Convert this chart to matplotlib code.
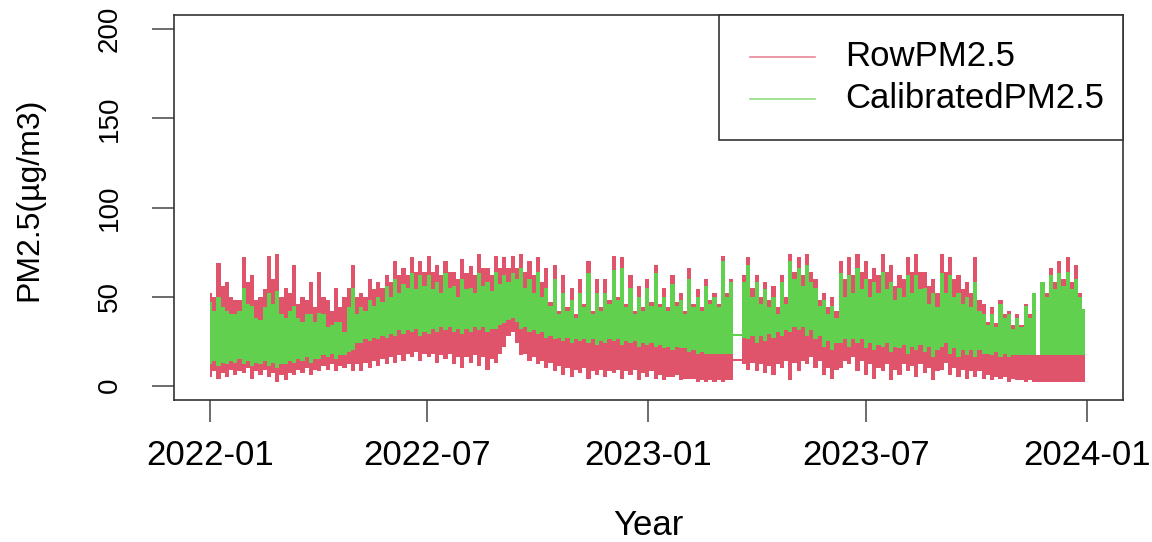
import matplotlib
matplotlib.use("Agg")
import matplotlib.pyplot as plt
from matplotlib.patches import Rectangle
from matplotlib.lines import Line2D
import numpy as np
import pandas as pd

plt.rcParams['font.family'] = ['Liberation Sans', 'DejaVu Sans']

# "_a" = samples at the start of each week, "_b" = samples half a week later.
start_date = "2022-01-01"
raw_hi_a = [52, 69, 58, 48, 72, 62, 50, 73, 74, 55, 68, 50, 58, 64, 48, 55, 50, 68, 52, 60,
            58, 62, 70, 66, 72, 70, 73, 68, 70, 64, 71, 67, 74, 66, 73, 72, 73, 74, 70, 72,
            66, 68, 62, 55, 60, 70, 60, 60, 73, 72, 62, 56, 60, 68, 55, 62, 52, 66, 54, 60,
            52, 73, 60, 15, 72, 62, 58, 56, 62, 74, 72, 74, 60, 52, 50, 70, 72, 74, 70, 66,
            74, 68, 62, 72, 74, 64, 60, 74, 72, 62, 58, 72, 46, 44, 48, 42, 40, 46, 52, 58,
            66, 70, 72, 68, 43]
raw_hi_b = [50, 56, 50, 48, 58, 48, 54, 60, 50, 52, 46, 48, 44, 50, 42, 44, 55,
            50, 50, 54, 55, 58, 62, 62, 64, 64,
            64, 62, 64, 60, 63, 62, 66, 62, 66, 66, 66, 64, 62, 58,
            47, 42, 44, 40, 46, 42, 44, 48, 50, 46, 42, 44, 47,
            46, 44, 47, 42, 46, 44, 48, 46, 52, 15,
            62, 55, 50, 48, 44, 50, 64, 62, 64, 48, 44, 42, 60, 62, 64,
            60, 62, 64, 56, 60, 64, 64, 56, 52, 64, 60, 54, 52, 48,
            36, 35, 40, 34, 34, 40, 17, 52, 58, 60, 58, 52]
cal_hi_a = [47, 50, 42, 40, 55, 45, 37, 52, 53, 38, 45, 36, 40, 41, 33, 36, 30, 55, 44, 48,
            50, 56, 60, 57, 63, 62, 62, 58, 63, 56, 60, 55, 63, 58, 64, 62, 63, 66, 60, 64,
            55, 60, 52, 48, 52, 63, 52, 52, 65, 66, 55, 50, 55, 63, 50, 57, 48, 60, 50, 56,
            50, 70, 58, 29, 68, 58, 54, 50, 58, 70, 66, 68, 55, 48, 45, 63, 62, 66, 60, 58,
            64, 58, 55, 62, 62, 55, 52, 63, 62, 52, 50, 58, 40, 40, 46, 40, 38, 45, 52, 58,
            62, 63, 64, 60, 43]
cal_hi_b = [42, 44, 40, 42, 46, 38, 44, 46, 40, 42, 38, 40, 36, 40, 34, 36, 44,
            40, 42, 45, 47, 50, 52, 55, 54, 56,
            54, 52, 55, 50, 54, 52, 56, 53, 57, 58, 60, 55, 52, 50,
            45, 40, 42, 38, 44, 40, 42, 46, 48, 44, 40, 42, 45,
            44, 42, 45, 40, 44, 42, 46, 44, 50, 29,
            58, 50, 46, 44, 40, 46, 60, 56, 58, 45, 40, 38, 50, 52, 54,
            50, 52, 54, 48, 50, 52, 54, 46, 44, 52, 50, 46, 44, 42,
            34, 33, 38, 32, 33, 38, 17, 50, 54, 56, 54, 50]
cal_lo_a = [12, 11, 12, 13, 12, 11, 12, 11, 10, 12, 13, 14, 13, 15, 16, 15, 17, 20, 24, 25,
            26, 27, 28, 29, 30, 28, 29, 30, 31, 30, 29, 30, 31, 30, 32, 35, 38, 32, 30, 29,
            27, 26, 25, 24, 25, 24, 23, 24, 25, 23, 24, 22, 23, 22, 21, 20, 21, 19, 18, 18,
            18, 18, 18, 28, 26, 24, 25, 27, 28, 30, 31, 28, 26, 22, 20, 24, 22, 24, 21, 20,
            22, 19, 21, 18, 20, 19, 16, 22, 18, 16, 17, 16, 18, 17, 16, 16, 17, 17, 17, 17,
            17, 17, 17, 17, 17]
cal_lo_b = [14, 13, 14, 15, 14, 13, 14, 13, 12, 14, 15, 16, 15, 17, 18, 17, 19,
            24, 26, 27, 28, 29, 31, 31, 32, 30,
            32, 33, 33, 32, 32, 33, 33, 32, 34, 37, 36, 33, 31, 30,
            28, 27, 27, 26, 26, 26, 25, 26, 26, 25, 25, 24, 24,
            23, 22, 22, 21, 20, 19, 18, 18, 18, 28,
            27, 28, 28, 29, 30, 31, 33, 33, 31, 28, 25, 24, 26, 26, 26,
            24, 23, 24, 22, 23, 22, 23, 22, 20, 24, 21, 20, 20, 20,
            18, 19, 18, 17, 17, 17, 17, 17, 17, 17, 17, 17]
raw_lo_a = [5, 4, 5, 6, 7, 4, 6, 5, 2, 3, 6, 7, 6, 8, 9, 8, 10, 8, 8, 10,
            11, 12, 13, 14, 16, 14, 16, 13, 15, 12, 10, 13, 11, 9, 13, 22, 30, 17, 14, 12,
            10, 8, 6, 5, 7, 4, 6, 5, 7, 4, 6, 3, 5, 4, 3, 5, 3, 4, 2, 2,
            2, 2, 3, 14, 9, 8, 7, 6, 10, 3, 8, 12, 10, 6, 4, 10, 12, 8, 6, 4,
            8, 3, 6, 8, 5, 7, 3, 9, 6, 5, 4, 5, 4, 3, 4, 2, 3, 2, 2, 2,
            2, 2, 2, 2, 2]
raw_lo_b = [8, 7, 9, 8, 10, 8, 9, 7, 6, 7, 9, 10, 9, 11, 12, 11, 12,
            12, 13, 14, 15, 16, 17, 18, 19, 18,
            18, 17, 18, 16, 16, 17, 16, 15, 18, 28, 24, 18, 16, 14,
            13, 11, 10, 9, 10, 8, 9, 8, 9, 8, 9, 7, 8,
            6, 5, 6, 4, 4, 3, 3, 3, 3, 14,
            12, 13, 12, 11, 12, 14, 13, 14, 16, 14, 10, 9, 14, 16, 14,
            12, 10, 12, 9, 12, 11, 12, 10, 8, 13, 10, 9, 8, 8,
            6, 5, 5, 4, 3, 3, 2, 2, 2, 2, 2, 2]

series_labels = ["RowPM2.5", "CalibratedPM2.5"]
x_tick_labels = ["2022-01", "2022-07", "2023-01", "2023-07", "2024-01"]
y_ticks = [0, 50, 100, 150, 200]

RED = "#DF536B"
GREEN = "#61D04F"


def interleave(a, b):
    out = []
    for i, v in enumerate(a):
        out.append(v)
        if i < len(b):
            out.append(b[i])
    return np.array(out, dtype=float)


raw_hi = interleave(raw_hi_a, raw_hi_b)
raw_lo = interleave(raw_lo_a, raw_lo_b)
cal_hi = interleave(cal_hi_a, cal_hi_b)
cal_lo = interleave(cal_lo_a, cal_lo_b)
dates = pd.date_range(start_date, periods=len(raw_hi), freq="84h")

fig = plt.figure(figsize=(11.52, 5.42), dpi=100)
ax = fig.add_axes([174/1152, 1-400/542, 949/1152, 385/542])

ax.fill_between(dates, raw_lo, raw_hi, color=RED, lw=0, step='mid')
ax.fill_between(dates, cal_lo, cal_hi, color=GREEN, lw=0, step='mid')

ax.set_xlim(pd.Timestamp("2021-12-02"), pd.Timestamp("2024-01-31"))
ax.set_ylim(-8, 208)

tick_dates = [pd.Timestamp(s + "-01") for s in x_tick_labels]
ax.set_xticks(tick_dates)
ax.set_xticklabels(x_tick_labels)
ax.set_yticks(y_ticks)
ax.set_yticklabels([str(v) for v in y_ticks], rotation=90, va='center')

for s in ax.spines.values():
    s.set_color('#333333')
    s.set_linewidth(1.2)

ax.tick_params(axis='both', direction='out', length=15.8, width=1.1, color='#444444')
ax.tick_params(axis='x', labelsize=25, pad=12)
ax.tick_params(axis='y', labelsize=20, pad=21)

ax.set_xlabel("Year", fontsize=25)
ax.xaxis.set_label_coords(0.5, -0.283)
ax.set_ylabel("PM2.5(µg/m3)", fontsize=23)
ax.yaxis.set_label_coords(-0.137, 0.52)

# legend box (R style)
ax_w, ax_h = 949.0, 385.0


def ax_x(px):
    return (px - 174) / ax_w


def ax_y(py):
    return (400 - py) / ax_h


ax.add_patch(Rectangle((ax_x(719), ax_y(140)), ax_x(1123) - ax_x(719), ax_y(15) - ax_y(140),
                       transform=ax.transAxes, facecolor='white', edgecolor='#333333',
                       lw=1.2, zorder=5, clip_on=False))
for lab, col, py in zip(series_labels, [RED, GREEN], [57, 99]):
    ax.add_line(Line2D([ax_x(750), ax_x(815)], [ax_y(py), ax_y(py)], transform=ax.transAxes,
                       color=col, lw=1.2, alpha=0.7, zorder=6))
    ax.text(ax_x(845), ax_y(py), lab, transform=ax.transAxes, fontsize=25,
            ha='left', va='center', zorder=6)

fig.savefig("out.png", dpi=100)
